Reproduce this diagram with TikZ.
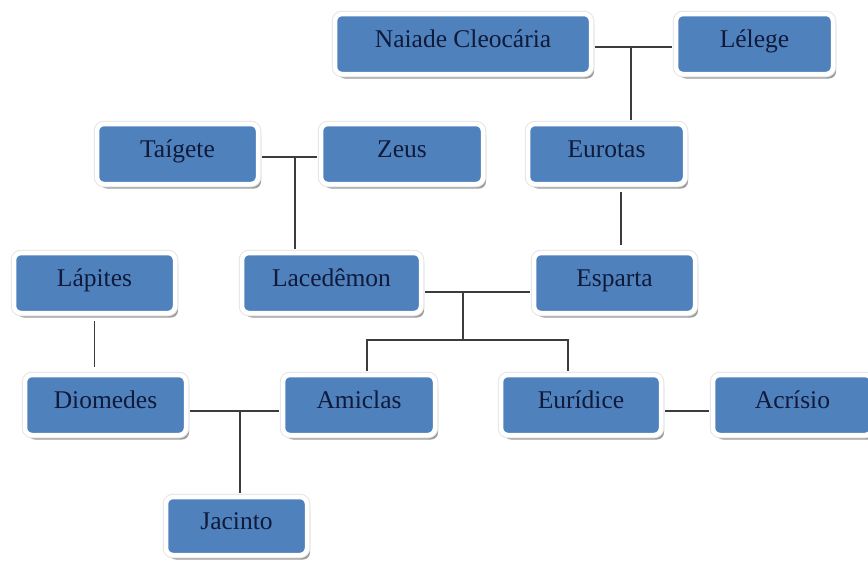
\documentclass[tikz,border=0pt]{standalone}
\usepackage{fontspec}
\setmainfont{Liberation Serif}
\usetikzlibrary{shadows,calc}
\definecolor{BoxBlue}{RGB}{79,129,189}
\definecolor{NameInk}{RGB}{16,26,58}
\definecolor{LineGray}{RGB}{60,60,60}

\begin{document}
\begin{tikzpicture}[x=1pt,y=-1pt,
 person/.style={
  drop shadow={shadow xshift=3pt,shadow yshift=-4.5pt,fill=black!55,opacity=.7},
  preaction={draw=black!10,line width=6.5pt},
  draw=white,line width=4.5pt,fill=BoxBlue,rounded corners=7pt,
  minimum height=60pt,inner sep=0pt,text=NameInk,
  font=\fontsize{25.5}{28}\selectfont,text height=20pt,text depth=14pt},
 link/.style={draw=LineGray,line width=1.5pt,shorten <=2pt,shorten >=2pt}]
\fill[white] (0,0) rectangle (868,560);
\useasboundingbox (0,0) rectangle (868,560);
\node[person,minimum width=256pt] (naiade) at (463,44) {Naiade Cleocária};
\node[person,minimum width=157pt] (lelege) at (754.5,44) {Lélege};
\node[person,minimum width=157pt] (eurotas) at (606.5,154) {Eurotas};
\node[person,minimum width=161pt] (taigete) at (177.5,154) {Taígete};
\node[person,minimum width=162pt] (zeus) at (402,154) {Zeus};
\node[person,minimum width=179pt] (lacedemon) at (331.5,283) {Lacedêmon};
\node[person,minimum width=161pt] (lapites) at (94.5,283) {Lápites};
\node[person,minimum width=161pt] (esparta) at (614.5,283) {Esparta};
\node[person,minimum width=161pt] (diomedes) at (105.5,405) {Diomedes};
\node[person,minimum width=152pt] (amiclas) at (359,405) {Amiclas};
\node[person,minimum width=160pt] (euridice) at (581,405) {Eurídice};
\node[person,minimum width=159pt] (acrisio) at (792.5,405) {Acrísio};
\node[person,minimum width=141pt,minimum height=58pt] (jacinto) at (236.5,526) {Jacinto};
\coordinate (c1) at (631,47);
\coordinate (c2) at (295,157);
\coordinate (c3) at (463,292);
\coordinate (c4) at (463,340);
\coordinate (c5) at (240,411);
\draw[link] ([yshift=-3pt]naiade.east) -- ([yshift=-3pt]lelege.west);
\draw[link,shorten <=0pt] (c1) -- (c1 |- eurotas.north);
\draw[link] ([yshift=-3pt]taigete.east) -- ([yshift=-3pt]zeus.west);
\draw[link,shorten <=0pt] (c2) -- (c2 |- lacedemon.north);
\draw[link,shorten <=6pt,shorten >=6pt] ([xshift=14.5pt]eurotas.south) -- ([xshift=6.5pt]esparta.north);
\draw[link] ([yshift=-9pt]lacedemon.east) -- ([yshift=-9pt]esparta.west);
\draw[link,shorten <=0pt,shorten >=0pt] (c3) -- (c4);
\draw[link,shorten <=0pt] (c4) -| ([xshift=8pt]amiclas.north);
\draw[link,shorten <=0pt] (c4) -| ([xshift=-13pt]euridice.north);
\draw[link,shorten <=6pt,shorten >=6pt] (lapites.south) -- (lapites.south |- diomedes.north);
\draw[link] ([yshift=-6pt]diomedes.east) -- ([yshift=-6pt]amiclas.west);
\draw[link,shorten <=0pt] (c5) -- (c5 |- jacinto.north);
\draw[link] ([yshift=-6pt]euridice.east) -- ([yshift=-6pt]acrisio.west);
\end{tikzpicture}
\end{document}
